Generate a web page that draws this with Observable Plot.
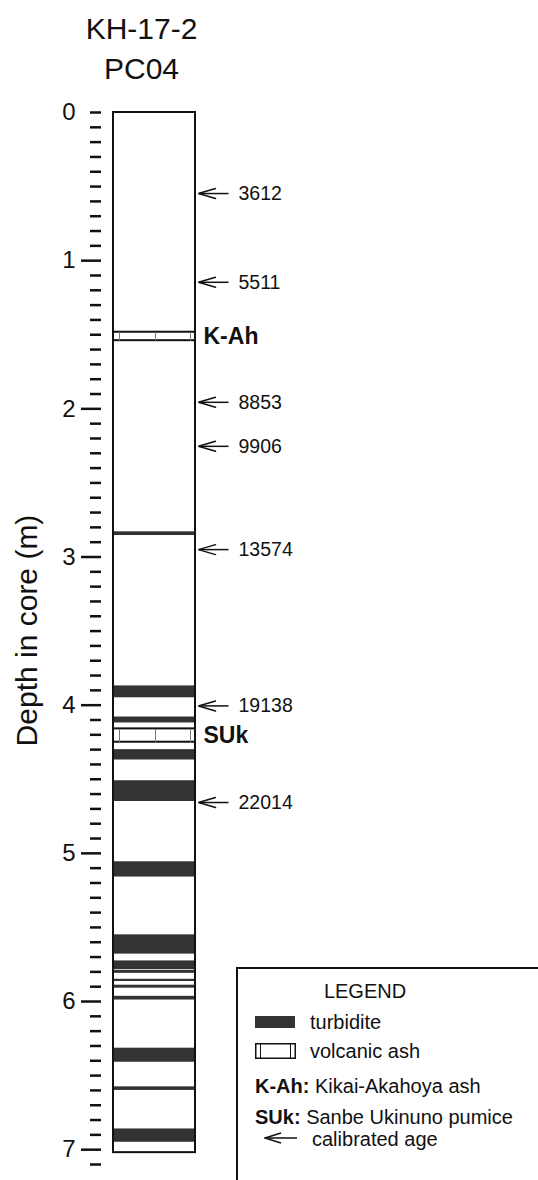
<!DOCTYPE html>
<html>
<head>
<meta charset="utf-8">
<script src="https://cdn.jsdelivr.net/npm/d3@7"></script>
<script src="https://cdn.jsdelivr.net/npm/@observablehq/plot@0.6"></script>
<style>
  body { margin: 0; background: #fff; font-family: "Liberation Sans", Arial, Helvetica, sans-serif; color: #111; }
  #wrap { position: relative; width: 538px; height: 1180px; overflow: hidden; }
  #chart svg { display: block; }
  .legend-box { position: absolute; left: 236px; top: 967px; width: 400px; height: 400px; border-left: 2px solid #111; border-top: 2px solid #111; box-sizing: border-box; }
  .lg { position: absolute; font-size: 20px; line-height: 1; white-space: nowrap; transform: translateY(-50%); }
  .lg.center { transform: translate(-50%, -50%); }
  .sw { position: absolute; box-sizing: border-box; }
</style>
</head>
<body>
<div id="wrap"><div id="chart"></div></div>
<script>
// ---------- data ----------
const titleLines = ["KH-17-2", "PC04"];
const depthAxisLabel = "Depth in core (m)";
const depthTickLabels = [0, 1, 2, 3, 4, 5, 6, 7];
const majorTicks = [1, 2, 3, 4, 5, 6, 7];
const minorTicks = d3.range(0, 72).filter(i => i === 0 || i % 10 !== 0).map(i => i / 10);

const coreTop = 0;
const coreBottom = 7.02;

const turbiditeTop    = [2.83, 3.87, 4.08, 4.30, 4.51, 5.057, 5.55, 5.726, 5.79, 5.85, 5.89, 5.965, 6.315, 6.576, 6.86];
const turbiditeBottom = [2.855, 3.95, 4.12, 4.37, 4.65, 5.16, 5.68, 5.785, 5.81, 5.865, 5.91, 5.99, 6.41, 6.60, 6.95];

const ashNames  = ["K-Ah", "SUk"];
const ashTop    = [1.483, 4.16];
const ashBottom = [1.54, 4.25];

const ageLabels = ["3612", "5511", "8853", "9906", "13574", "19138", "22014"];
const ageDepths = [0.547, 1.146, 1.956, 2.253, 2.95, 4.005, 4.657];

const legendTitle = "LEGEND";
const legendSwatchLabels = ["turbidite", "volcanic ash"];
const legendAbbrev = ["K-Ah:", "SUk:"];
const legendAbbrevText = ["Kikai-Akahoya ash", "Sanbe Ukinuno pumice"];
const legendArrowLabel = "calibrated age";

// ---------- layout ----------
const W = 538, H = 1180;
const mTop = 112, mBottom = 16, mLeft = 113, coreW = 82;
const mRight = W - mLeft - coreW;
const yMax = 7.1;
const pxPerM = (H - mTop - mBottom) / yMax;
const ashPatternX = [6, 42, 77];
const ink = "#111";
const turbFill = "#333";

// ---------- tables ----------
const turbidites = turbiditeTop.map((t, i) => ({top: t, bottom: turbiditeBottom[i]}));
const ashes = ashNames.map((n, i) => ({name: n, top: ashTop[i], bottom: ashBottom[i], mid: (ashTop[i] + ashBottom[i]) / 2}));
const ashLines = ashes.flatMap(a => ashPatternX.map(x => ({x, top: a.top, bottom: a.bottom})));
const ages = ageLabels.map((l, i) => ({label: l, depth: ageDepths[i]}));
const tipX = coreW + 3, tailX = coreW + 33, wingLen = 17, wingH = 5 / pxPerM;
const heads = ages.flatMap((a, i) => [
  {id: i, x: tipX + wingLen, y: a.depth - wingH},
  {id: i, x: tipX, y: a.depth},
  {id: i, x: tipX + wingLen, y: a.depth + wingH}
]);

const chart = Plot.plot({
  width: W,
  height: H,
  marginTop: mTop,
  marginBottom: mBottom,
  marginLeft: mLeft,
  marginRight: mRight,
  style: {fontFamily: '"Liberation Sans", Arial, Helvetica, sans-serif', color: ink, background: "white"},
  x: {domain: [0, coreW], axis: null},
  y: {domain: [0, yMax], reverse: true, axis: null},
  marks: [
    Plot.rect(turbidites, {x1: 0, x2: coreW, y1: "top", y2: "bottom", fill: turbFill}),
    Plot.rect(ashes, {x1: 0, x2: coreW, y1: "top", y2: "bottom", fill: "white", stroke: ink, strokeWidth: 2}),
    Plot.link(ashLines, {x1: "x", x2: "x", y1: "top", y2: "bottom", stroke: "#777", strokeWidth: 1}),
    Plot.rect([0], {x1: 0, x2: coreW, y1: coreTop, y2: coreBottom, fill: "none", stroke: ink, strokeWidth: 2}),
    Plot.text(ashes, {x: coreW, y: "mid", dx: 8, text: "name", textAnchor: "start", lineAnchor: "middle", fontSize: 23, fontWeight: "bold", fill: ink}),
    Plot.link(ages, {x1: tailX, x2: tipX, y1: "depth", y2: "depth", stroke: ink, strokeWidth: 1.5}),
    Plot.line(heads, {x: "x", y: "y", z: "id", stroke: ink, strokeWidth: 1.5, strokeLinejoin: "miter"}),
    Plot.text(ages, {x: coreW, y: "depth", dx: 43, text: "label", textAnchor: "start", lineAnchor: "middle", fontSize: 19.5, fill: ink}),
    Plot.ruleY(majorTicks, {y: d => d, x1: -32, x2: -12, stroke: ink, strokeWidth: 2.5}),
    Plot.ruleY(minorTicks, {y: d => d, x1: -23, x2: -12, stroke: ink, strokeWidth: 2.5}),
    Plot.text(depthTickLabels, {x: -38, y: d => d, text: d => String(d), textAnchor: "end", lineAnchor: "middle", fontSize: 24, fill: ink}),
    Plot.text([depthAxisLabel], {frameAnchor: "left", dx: -86, dy: -8, rotate: -90, text: d => d, textAnchor: "middle", lineAnchor: "middle", fontSize: 30, fill: ink}),
    Plot.text([titleLines[0]], {frameAnchor: "top", dx: -13, dy: -83, text: d => d, textAnchor: "middle", lineAnchor: "middle", fontSize: 30, fill: ink}),
    Plot.text([titleLines[1]], {frameAnchor: "top", dx: -13, dy: -43, text: d => d, textAnchor: "middle", lineAnchor: "middle", fontSize: 30, fill: ink})
  ]
});
document.getElementById("chart").appendChild(chart);

// ---------- legend (HTML overlay) ----------
const wrap = document.getElementById("wrap");
function add(html, cls, style) {
  const el = document.createElement("div");
  el.className = cls;
  Object.assign(el.style, style);
  el.innerHTML = html;
  wrap.appendChild(el);
  return el;
}
add("", "legend-box", {});
add(legendTitle, "lg center", {left: "365px", top: "991px"});
add("", "sw", {left: "255px", top: "1016px", width: "40px", height: "12px", background: turbFill});
add(legendSwatchLabels[0], "lg", {left: "310px", top: "1022px"});
add(`<svg width="41" height="16" style="display:block">
  <rect x="0.75" y="0.75" width="39.5" height="14.5" fill="white" stroke="${ink}" stroke-width="1.5"/>
  <line x1="5.5" x2="5.5" y1="1" y2="15" stroke="${ink}" stroke-width="1"/>
  <line x1="35.5" x2="35.5" y1="1" y2="15" stroke="${ink}" stroke-width="1"/>
</svg>`, "sw", {left: "255px", top: "1043px"});
add(legendSwatchLabels[1], "lg", {left: "310px", top: "1051px"});
add(`<b>${legendAbbrev[0]}</b> ${legendAbbrevText[0]}`, "lg", {left: "255px", top: "1086px"});
add(`<b>${legendAbbrev[1]}</b> ${legendAbbrevText[1]}`, "lg", {left: "255px", top: "1117px"});
add(`<svg width="34" height="14" style="display:block">
  <line x1="1" x2="33" y1="7" y2="7" stroke="${ink}" stroke-width="1.5"/>
  <polyline points="17,2 1,7 17,12" fill="none" stroke="${ink}" stroke-width="1.5"/>
</svg>`, "sw", {left: "264px", top: "1131px"});
add(legendArrowLabel, "lg", {left: "312px", top: "1139px"});
</script>
</body>
</html>
